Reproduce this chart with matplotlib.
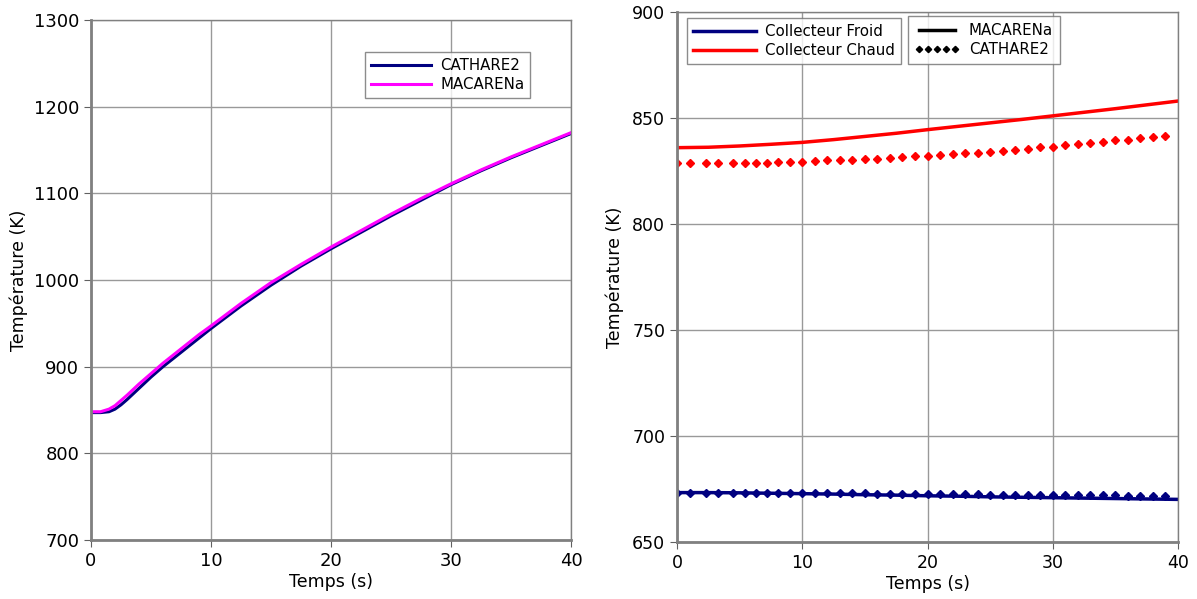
import matplotlib
matplotlib.use('Agg')
from matplotlib import pyplot as plt
from matplotlib.lines import Line2D

# left panel: temperature rise
t_left = [0, 0.8, 1.5, 2, 2.5, 3, 4, 5, 6, 7, 8, 9, 10, 12.5, 15, 17.5, 20,
          22.5, 25, 27.5, 30, 32.5, 35, 37.5, 40]
macarena_left = [848, 848, 851, 855, 861, 867, 880, 892, 904, 915, 926, 937, 947, 973, 997, 1018, 1038,
                 1057, 1076, 1094, 1111, 1127, 1142, 1156, 1170]
cathare_left = [847, 847, 848, 851, 856, 862, 875, 888, 900, 911, 922, 933, 944, 970, 994, 1016, 1036,
                1055, 1074, 1092, 1110, 1126, 1141, 1155, 1169]

# right panel: collectors
t_line = [0, 2.5, 5, 7.5, 10, 12.5, 15, 17.5, 20, 22.5, 25, 27.5, 30, 32.5, 35, 37.5, 40]
chaud_macarena = [836.0, 836.2, 836.8, 837.6, 838.5, 839.8, 841.3, 842.8, 844.5, 846.1,
                  847.7, 849.3, 851.0, 852.7, 854.4, 856.2, 858.0]
froid_macarena = [673.3, 673.3, 673.2, 673.0, 672.8, 672.6, 672.3, 672.1, 671.8, 671.6,
                  671.3, 671.1, 670.9, 670.7, 670.5, 670.3, 670.1]

t_pts = [0, 1, 2.3, 3.3, 4.5, 5.4, 6.3, 7.2, 8.1, 9, 10, 11, 12, 13, 14, 15, 16, 17, 18, 19,
         20, 21, 22, 23, 24, 25, 26, 27, 28, 29, 30, 31, 32, 33, 34, 35, 36, 37, 38, 39]
chaud_cathare = [828.9, 828.9, 828.9, 828.9, 828.9, 829.0, 829.0, 829.0, 829.4, 829.4,
                 829.4, 829.7, 830.0, 830.0, 830.4, 830.6, 830.7, 831.0, 831.8, 832.0,
                 832.2, 832.6, 832.9, 833.3, 833.7, 834.0, 834.4, 834.9, 835.5, 836.1,
                 836.5, 837.1, 837.7, 838.1, 838.7, 839.4, 839.8, 840.4, 840.9, 841.7]
froid_cathare = [673.3, 673.3, 673.3, 673.2, 673.2, 673.2, 673.2, 673.1, 673.1, 673.1,
                 673.0, 673.0, 673.0, 672.9, 672.9, 672.9, 672.8, 672.8, 672.7, 672.7,
                 672.6, 672.6, 672.6, 672.5, 672.5, 672.4, 672.4, 672.4, 672.3, 672.3,
                 672.2, 672.2, 672.1, 672.1, 672.0, 672.0, 671.9, 671.9, 671.8, 671.7]

navy = '#000080'
W, H = 1197, 599
fig = plt.figure(figsize=(W / 100, H / 100), dpi=100)


def style_ax(ax, fs):
    ax.grid(True, color='#999999', lw=1)
    ax.set_axisbelow(True)
    for s in ax.spines.values():
        s.set_color('#808080')
        s.set_linewidth(1)
    ax.spines['left'].set_linewidth(2)
    ax.spines['bottom'].set_linewidth(2)
    ax.tick_params(direction='out', length=5, color='#606060', labelsize=fs)


ax1 = fig.add_axes([91 / W, (H - 540) / H, 480 / W, 520 / H])
ax1.plot(t_left, cathare_left, color=navy, lw=2.2, label='CATHARE2')
ax1.plot(t_left, macarena_left, color='#ff00ff', lw=2.2, label='MACARENa')
ax1.set_xlim(0, 40)
ax1.set_ylim(700, 1300)
ax1.set_xticks([0, 10, 20, 30, 40])
ax1.set_yticks(range(700, 1301, 100))
style_ax(ax1, 13)
ax1.set_xlabel('Temps (s)', fontsize=12.5, labelpad=2)
ax1.set_ylabel('Température (K)', fontsize=12.5, labelpad=4)
leg = ax1.legend(loc='upper left', bbox_to_anchor=(365 / W, 1 - 52 / H),
                 bbox_transform=fig.transFigure, fontsize=10.8, handlelength=4.0,
                 handletextpad=0.6, fancybox=False, edgecolor='#707070', borderaxespad=0,
                 labelspacing=0.25, borderpad=0.4)
leg.get_frame().set_linewidth(1)

ax2 = fig.add_axes([677 / W, (H - 542) / H, 501 / W, 530 / H])
ax2.plot(t_line, froid_macarena, color=navy, lw=2.5)
ax2.plot(t_pts, froid_cathare, color=navy, ls='none', marker='D', ms=4.2)
ax2.plot(t_line, chaud_macarena, color='red', lw=2.5)
ax2.plot(t_pts, chaud_cathare, color='red', ls='none', marker='D', ms=4.5)
ax2.set_xlim(0, 40)
ax2.set_ylim(650, 900)
ax2.set_xticks([0, 10, 20, 30, 40])
ax2.set_yticks(range(650, 901, 50))
style_ax(ax2, 12.5)
ax2.set_xlabel('Temps (s)', fontsize=12.5, labelpad=2)
ax2.set_ylabel('Température (K)', fontsize=12.5, labelpad=6)

h1 = [Line2D([], [], color=navy, lw=2.5), Line2D([], [], color='red', lw=2.5)]
leg1 = ax2.legend(h1, ['Collecteur Froid', 'Collecteur Chaud'], loc='upper left',
                  bbox_to_anchor=(687 / W, 1 - 18 / H), bbox_transform=fig.transFigure,
                  fontsize=10.8, handlelength=4.2, handletextpad=0.6, fancybox=False,
                  edgecolor='#707070', borderaxespad=0, labelspacing=0.25, borderpad=0.4)
leg1.get_frame().set_linewidth(1)
ax2.add_artist(leg1)
h2 = [Line2D([], [], color='black', lw=2.5),
      Line2D([], [], color='black', ls='none', marker='D', ms=3.2)]
leg2 = ax2.legend(h2, ['MACARENa', 'CATHARE2'], loc='upper left', numpoints=5,
                  bbox_to_anchor=(908 / W, 1 - 16 / H), bbox_transform=fig.transFigure,
                  fontsize=10.8, handlelength=3.0, handletextpad=0.6, fancybox=False,
                  edgecolor='#707070', borderaxespad=0, labelspacing=0.3, borderpad=0.45)
leg2.get_frame().set_linewidth(1)

fig.savefig('out.png', dpi=100)
